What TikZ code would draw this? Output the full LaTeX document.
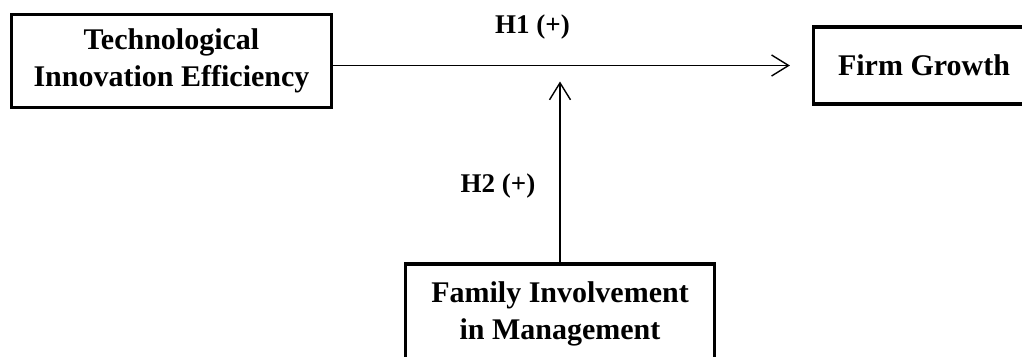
\documentclass[tikz,border=0pt]{standalone}
\usepackage{fontspec}
\setmainfont{Liberation Serif}
\usetikzlibrary{arrows.meta}

\begin{document}
\begin{tikzpicture}[x=1pt,y=-1pt,
      box/.style={draw=black,line width=3.2pt,align=center,inner sep=0pt,
        font=\bfseries\fontsize{30}{37}\selectfont},
      hyp/.style={font=\bfseries\fontsize{27}{32}\selectfont,inner sep=0pt,
        anchor=base},
      flow/.style={-{Straight Barb[length=17pt,width=21pt,line width=1.4pt]},
        line width=1.4pt,draw=black}
    ]
      \useasboundingbox (0,0) rectangle (1022,356);
      \node[box,minimum width=320pt,minimum height=93pt] (tie) at (171.5,61)
        {Technological\\Innovation Efficiency};
      \node[box,minimum width=221pt,minimum height=77pt] (growth) at (924,65.5)
        {Firm Growth};
      \node[box,minimum width=309pt,minimum height=100pt] (fim) at (560,314)
        {Family Involvement\\in Management};
      \coordinate (meet) at (560,65.5);
      \node[hyp] (h1) at (532.5,33) {H1 (+)};
      \node[hyp] (h2) at (498,192) {H2 (+)};
      \draw[flow,shorten >=22pt] (tie.east |- growth.west) -- (growth.west);
      \draw[flow,shorten >=16pt] (fim) -- (meet);
    \end{tikzpicture}
\end{document}
